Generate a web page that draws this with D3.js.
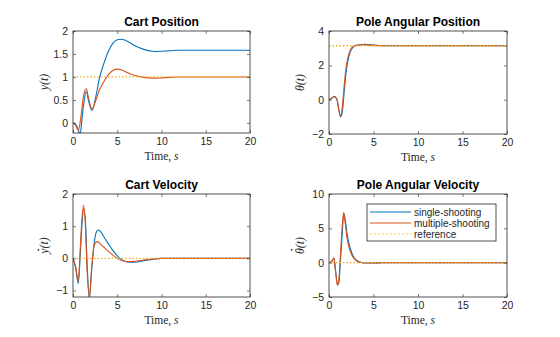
<!DOCTYPE html>
<html><head><meta charset="utf-8">
<script src="https://cdn.jsdelivr.net/npm/d3@7"></script>
<style>body{margin:0;background:#fff}svg{display:block}</style>
</head><body>
<script>
// ---------- data ----------
const xTicks = [0,5,10,15,20];
const seriesNames = ["single-shooting","multiple-shooting","reference"];

const posT      = [0,0.3,0.6,0.8,1.0,1.2,1.5,1.8,2.15,2.5,3.0,3.5,4.0,4.5,5.0,5.5,6,7,8,9,9.5,10,11,12,14,16,18,20];
const posSingle = [0,-0.03,-0.15,-0.26,0.05,0.4,0.68,0.45,0.27,0.5,0.98,1.3,1.56,1.73,1.81,1.82,1.79,1.68,1.6,1.56,1.555,1.56,1.57,1.58,1.58,1.58,1.58,1.58];
const posMulti  = [0,-0.05,-0.17,0.0,0.3,0.6,0.74,0.5,0.3,0.45,0.72,0.9,1.05,1.14,1.17,1.15,1.11,1.03,0.99,0.975,0.975,0.98,0.99,1.0,1.0,1.0,1.0,1.0];
const posRef    = 1;
const posYTicks = [0,0.5,1,1.5,2];

const angT      = [0,0.3,0.6,0.9,1.1,1.3,1.5,1.7,1.9,2.1,2.4,2.7,3.0,3.5,4,5,6,8,10,20];
const angSingle = [0,0.08,0.18,0.0,-0.55,-1.0,-0.7,0.4,1.5,2.2,2.8,3.05,3.15,3.2,3.22,3.18,3.15,3.14,3.14,3.14];
const angMulti  = [0,0.08,0.2,0.0,-0.6,-0.95,-0.4,0.8,1.8,2.4,2.9,3.1,3.15,3.2,3.2,3.16,3.14,3.14,3.14,3.14];
const angRef    = Math.PI;
const angYTicks = [-2,0,2,4];

const velT      = [0,0.3,0.6,0.8,1.0,1.2,1.4,1.6,1.85,2.1,2.4,2.7,2.9,3.2,3.6,4,4.5,5,5.5,6,6.5,7,8,9,10,12,20];
const velSingle = [0,-0.3,-0.78,0.0,1.0,1.55,1.2,-0.2,-1.25,-0.4,0.5,0.85,0.88,0.8,0.62,0.45,0.25,0.08,-0.04,-0.1,-0.12,-0.12,-0.07,-0.03,0,0,0];
const velMulti  = [0,-0.25,-0.7,0.2,1.2,1.65,1.0,-0.4,-1.2,-0.3,0.4,0.52,0.5,0.42,0.32,0.22,0.1,0.0,-0.06,-0.1,-0.1,-0.09,-0.05,-0.02,0,0,0];
const velRef    = 0;
const velYTicks = [-1,0,1,2];

const avT      = [0,0.3,0.55,0.75,0.95,1.1,1.3,1.5,1.65,1.8,2.0,2.3,2.6,3.0,3.5,4,5,6,8,20];
const avSingle = [0,0.2,0.6,-1.2,-3.2,-3.0,0.5,4.5,7.2,6.5,4.5,2.5,1.3,0.45,0.1,-0.05,-0.05,0,0,0];
const avMulti  = [0,0.2,0.7,-1.5,-3.3,-2.5,1.5,5.5,7.3,6.0,3.8,2.0,1.0,0.35,0.05,-0.05,-0.05,0,0,0];
const avRef    = 0;
const avYTicks = [-5,0,5,10];

// ---------- layout ----------
const W = 560, H = 337;
const colors = ["#0072BD","#D95319","#EDB120"];
const panels = [
  {title:"Cart Position", ylab:"y(t)", dot:null, x0:73, x1:250, y0:31, y1:133, yd:[-0.22,2], t:posT, s:posSingle, m:posMulti, ref:posRef, yt:posYTicks},
  {title:"Pole Angular Position", ylab:"θ(t)", dot:null, x0:329, x1:507, y0:31, y1:134, yd:[-2,4], t:angT, s:angSingle, m:angMulti, ref:angRef, yt:angYTicks},
  {title:"Cart Velocity", ylab:"y(t)", dot:-9.6, x0:73, x1:250, y0:194, y1:297, yd:[-1.2,2], t:velT, s:velSingle, m:velMulti, ref:velRef, yt:velYTicks},
  {title:"Pole Angular Velocity", ylab:"θ(t)", dot:-12.3, x0:329, x1:507, y0:194, y1:297, yd:[-5,10], t:avT, s:avSingle, m:avMulti, ref:avRef, yt:avYTicks, legend:true}
];

const svg = d3.select("body").append("svg").attr("width",W).attr("height",H)
  .style("font-family","Arial, 'Liberation Sans', Helvetica, sans-serif");

panels.forEach((p,i)=>{
  const x = d3.scaleLinear().domain([0,20]).range([p.x0,p.x1]);
  const y = d3.scaleLinear().domain(p.yd).range([p.y1,p.y0]);
  const g = svg.append("g");
  const clipId = "clip"+i;
  svg.append("clipPath").attr("id",clipId).append("rect")
    .attr("x",p.x0).attr("y",p.y0).attr("width",p.x1-p.x0).attr("height",p.y1-p.y0);

  g.append("rect").attr("x",p.x0).attr("y",p.y0).attr("width",p.x1-p.x0).attr("height",p.y1-p.y0).attr("fill","#fff");

  const line = d3.line().curve(d3.curveMonotoneX).x(d=>x(d[0])).y(d=>y(d[1]));
  const plot = g.append("g").attr("clip-path",`url(#${clipId})`);
  plot.append("path").datum(p.t.map((t,k)=>[t,p.s[k]])).attr("d",line)
    .attr("fill","none").attr("stroke",colors[0]).attr("stroke-width",1.1);
  plot.append("path").datum(p.t.map((t,k)=>[t,p.m[k]])).attr("d",line)
    .attr("fill","none").attr("stroke",colors[1]).attr("stroke-width",1.1);
  plot.append("path").datum([[0,p.ref],[20,p.ref]]).attr("d",d3.line().x(d=>x(d[0])).y(d=>y(d[1])))
    .attr("fill","none").attr("stroke",colors[2]).attr("stroke-width",1.3).attr("stroke-dasharray","1.5,2");

  // axes
  const ax = d3.axisBottom(x).tickValues(xTicks).tickSizeInner(-3).tickSizeOuter(0).tickPadding(5);
  const axT = d3.axisTop(x).tickValues(xTicks).tickSizeInner(-3).tickSizeOuter(0).tickFormat("");
  const ay = d3.axisLeft(y).tickValues(p.yt).tickSizeInner(-3).tickSizeOuter(0).tickPadding(5).tickFormat(d3.format("~g"));
  const ayR = d3.axisRight(y).tickValues(p.yt).tickSizeInner(-3).tickSizeOuter(0).tickFormat("");
  [[ax,`translate(0,${p.y1})`],[axT,`translate(0,${p.y0})`],[ay,`translate(${p.x0},0)`],[ayR,`translate(${p.x1},0)`]].forEach(([a,tr])=>{
    const gg = g.append("g").attr("transform",tr).call(a);
    gg.select(".domain").remove();
    gg.selectAll("line").attr("stroke","#262626").attr("stroke-width",0.6);
    gg.selectAll("text").attr("fill","#262626").style("font-size","10.5px").style("font-family","Arial, 'Liberation Sans', sans-serif");
  });
  g.append("rect").attr("x",p.x0).attr("y",p.y0).attr("width",p.x1-p.x0).attr("height",p.y1-p.y0)
    .attr("fill","none").attr("stroke","#262626").attr("stroke-width",0.8);

  // title
  g.append("text").attr("x",(p.x0+p.x1)/2).attr("y",p.y0-5).attr("text-anchor","middle")
    .style("font-size","12px").style("font-weight","bold").attr("fill","#000").text(p.title);
  // x label
  const xl = g.append("text").attr("x",(p.x0+p.x1)/2).attr("y",p.y1+27).attr("text-anchor","middle")
    .style("font-family","'Liberation Serif', 'Times New Roman', serif").style("font-size","11.5px").attr("fill","#262626");
  xl.append("tspan").text("Time, ");
  xl.append("tspan").style("font-style","italic").text("s");
  // y label
  const lg0 = g.append("g").attr("transform",`translate(${p.x0-25},${(p.y0+p.y1)/2}) rotate(-90)`);
  const yl = lg0.append("text").attr("text-anchor","middle")
    .style("font-family","'Liberation Serif', 'Times New Roman', serif").style("font-size","12px").style("font-style","italic")
    .attr("fill","#262626").text(p.ylab);
  if(p.dot !== null){
    const ext = yl.node().getExtentOfChar(0);
    lg0.append("circle").attr("cx",ext.x+ext.width/2+1.3).attr("cy",p.dot).attr("r",0.85).attr("fill","#262626");
  }

  if(p.legend){
    const lx=367, ly=204, lw=129, lh=37;
    const lg = g.append("g");
    lg.append("rect").attr("x",lx).attr("y",ly).attr("width",lw).attr("height",lh).attr("fill","#fff").attr("stroke","#262626").attr("stroke-width",0.8);
    seriesNames.forEach((n,k)=>{
      const yy = ly+8+k*11;
      lg.append("line").attr("x1",lx+3).attr("x2",lx+44).attr("y1",yy).attr("y2",yy)
        .attr("stroke",colors[k]).attr("stroke-width",1.1).attr("stroke-dasharray",k===2?"1.5,2.5":null);
      lg.append("text").attr("x",lx+47).attr("y",yy+3.5).style("font-size","10px").attr("fill","#262626").text(n);
    });
  }
});
</script>
</body></html>
